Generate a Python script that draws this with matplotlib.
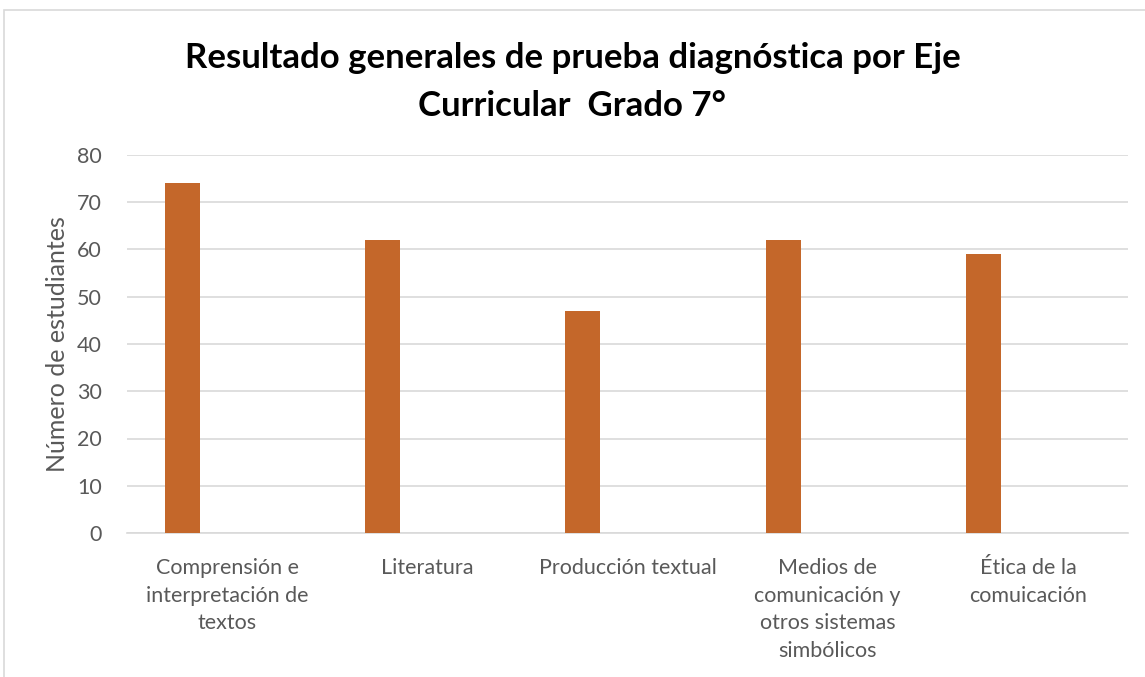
import numpy as np
import matplotlib
matplotlib.use("Agg")
from matplotlib import pyplot as plt
from matplotlib.patches import Rectangle

plt.rcParams['font.family'] = ['Lato', 'DejaVu Sans']

# data
categorias = ["Comprensión e\ninterpretación de\ntextos", "Literatura",
              "Producción textual",
              "Medios de\ncomunicación y\notros sistemas\nsimbólicos",
              "Ética de la\ncomuicación"]
estudiantes = [74, 62, 47, 62, 59]
yticks = [0, 10, 20, 30, 40, 50, 60, 70, 80]

fig = plt.figure(figsize=(11.45, 6.77), dpi=100)
# chart frame (cropped on right/bottom like the original)
fig.patches.append(Rectangle((4 / 1145, -0.1), 1.2, 0.1 + (677 - 10) / 677,
                             transform=fig.transFigure, fill=False,
                             edgecolor="#d9d9d9", linewidth=1.2))

ax = fig.add_axes([127 / 1145, (677 - 533) / 677, (1128 - 127) / 1145, (533 - 155) / 677])

x = np.arange(len(categorias))
ax.bar(x - 0.2225, estudiantes, width=0.175, color="#c4672a", zorder=3)

ax.set_xlim(-0.5, len(categorias) - 0.5)
ax.set_ylim(0, 80)
ax.set_yticks(yticks)
ax.yaxis.grid(True, color="#d9d9d9", linewidth=1.2, zorder=0)
ax.set_xticks(x)
ax.set_xticklabels(categorias, fontsize=15.5, color="#595959", linespacing=1.47)
ax.tick_params(axis="y", labelsize=15.5, labelcolor="#595959", length=0, pad=18)
ax.tick_params(axis="x", length=0, pad=18)
for s in ["top", "right", "left"]:
    ax.spines[s].set_visible(False)
ax.spines["bottom"].set_color("#d9d9d9")
ax.spines["bottom"].set_linewidth(1.2)

ax.set_ylabel("Número de estudiantes", fontsize=18, color="#595959", labelpad=6)

fig.text(0.5, (677 - 82) / 677, "Resultado generales de prueba diagnóstica por Eje\nCurricular  Grado 7°",
         ha="center", va="center", fontsize=25, fontweight="bold", color="black", linespacing=1.62)

fig.savefig("out.png", dpi=100)
